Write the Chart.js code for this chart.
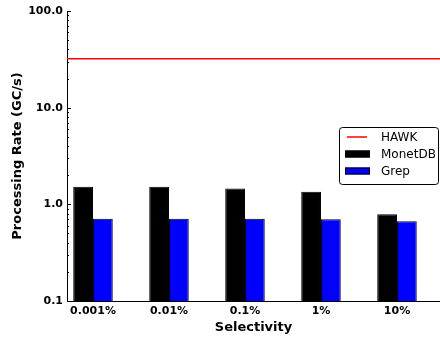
<!DOCTYPE html>
<html>
<head>
<meta charset="utf-8">
<script src="https://cdn.jsdelivr.net/npm/chart.js@4/dist/chart.umd.min.js"></script>
<style>
  html, body { margin: 0; padding: 0; background: #fff; }
  #wrap { width: 440px; height: 339px; position: relative; }
</style>
</head>
<body>
<div id="wrap"><canvas id="chart"></canvas></div>
<script>
// ─── Data ────────────────────────────────────────────────
const categories = ['0.001%', '0.01%', '0.1%', '1%', '10%'];
const monetdb = [1.52, 1.52, 1.46, 1.35, 0.79];
const grep = [0.71, 0.71, 0.71, 0.70, 0.67];
const hawk = 32;
const yTicks = [0.1, 1, 10, 100];
const yTickLabels = ['0.1', '1.0', '10.0', '100.0'];

const X_MIN = -0.342;
const X_MAX = 4.566;

const FONT = 'DejaVu Sans';

// small inward tick marks on the left spine, like matplotlib
const innerTicks = {
    id: 'innerTicks',
    afterDatasetsDraw(chart) {
        const { ctx, scales: { y }, chartArea } = chart;
        ctx.save();
        ctx.strokeStyle = '#000';
        ctx.lineWidth = 1;
        for (let d = 0.1; d < 100; d *= 10) {
            for (let m = 1; m <= 9; m++) {
                const v = d * m;
                const py = Math.round(y.getPixelForValue(v)) + 0.5;
                const len = m === 1 ? 4 : 2;
                ctx.beginPath();
                ctx.moveTo(chartArea.left, py);
                ctx.lineTo(chartArea.left + len, py);
                ctx.stroke();
            }
        }
        const top = Math.round(y.getPixelForValue(100)) + 0.5;
        ctx.beginPath();
        ctx.moveTo(chartArea.left, top);
        ctx.lineTo(chartArea.left + 4, top);
        ctx.stroke();
        ctx.restore();
    }
};

// legend box inside the plot
const boxLegend = {
    id: 'boxLegend',
    afterDraw(chart) {
        const { ctx } = chart;
        const x = 339.5, y = 127.5, w = 99, h = 57;
        ctx.save();
        ctx.strokeStyle = '#000';
        ctx.lineWidth = 1;
        ctx.fillStyle = '#fff';
        ctx.beginPath();
        ctx.roundRect(x, y, w, h, 3);
        ctx.fill();
        ctx.stroke();
        ctx.font = '12px "' + FONT + '"';
        ctx.textBaseline = 'middle';
        const rows = [137, 154, 171];
        chart.data.datasets.forEach((ds, i) => {
            const cy = rows[i];
            if (ds.type === 'line') {
                ctx.strokeStyle = ds.borderColor;
                ctx.lineWidth = 1.5;
                ctx.beginPath();
                ctx.moveTo(347, cy);
                ctx.lineTo(367, cy);
                ctx.stroke();
            } else {
                ctx.fillStyle = ds.backgroundColor;
                ctx.fillRect(345, cy - 3.5, 25, 7);
                ctx.strokeStyle = '#000';
                ctx.lineWidth = 1;
                ctx.strokeRect(345.5, cy - 3, 24, 6);
            }
            ctx.fillStyle = '#000';
            ctx.fillText(ds.label, 381, cy + 0.5);
        });
        ctx.restore();
    }
};

new Chart(document.getElementById('chart'), {
    type: 'bar',
    data: {
        datasets: [
            {
                type: 'line',
                label: 'HAWK',
                data: [{ x: X_MIN, y: hawk }, { x: X_MAX, y: hawk }],
                borderColor: '#ff0000',
                borderWidth: 1.5,
                pointRadius: 0,
                order: 0,
            },
            {
                label: 'MonetDB',
                data: monetdb.map((v, i) => ({ x: i, y: v })),
                backgroundColor: '#000000',
                borderColor: '#000000',
                borderWidth: 1,
                order: 1,
            },
            {
                label: 'Grep',
                data: grep.map((v, i) => ({ x: i, y: v })),
                backgroundColor: '#0000ff',
                borderColor: '#000000',
                borderWidth: 1,
                order: 1,
            }
        ]
    },
    options: {
        responsive: true,
        maintainAspectRatio: false,
        animation: false,
        events: [],
        categoryPercentage: 0.52,
        barPercentage: 1.0,
        layout: { padding: { top: 11, right: 0, left: 0, bottom: 0 } },
        plugins: {
            legend: { display: false },
            tooltip: { enabled: false }
        },
        scales: {
            x: {
                type: 'linear',
                min: X_MIN,
                max: X_MAX,
                offset: false,
                grid: { display: false, offset: false, drawTicks: false },
                border: { display: true, color: '#000', width: 1 },
                afterBuildTicks: (s) => { s.ticks = categories.map((c, i) => ({ value: i })); },
                afterFit: (s) => { s.height = 38; },
                ticks: {
                    autoSkip: false,
                    maxRotation: 0,
                    padding: 4,
                    color: '#000',
                    font: { family: FONT, size: 11, weight: 'bold' },
                    callback: (v) => categories[v]
                },
                title: {
                    display: true,
                    text: 'Selectivity',
                    color: '#000',
                    font: { family: FONT, size: 13, weight: 'bold' },
                    padding: { top: 0, bottom: 4 }
                }
            },
            y: {
                type: 'logarithmic',
                min: 0.1,
                max: 100,
                grid: { display: false, drawTicks: false },
                border: { display: true, color: '#000', width: 1 },
                afterBuildTicks: (s) => { s.ticks = yTicks.map(v => ({ value: v, major: true })); },
                afterFit: (s) => { s.width = 67; },
                ticks: {
                    padding: 4,
                    color: '#000',
                    font: { family: FONT, size: 11, weight: 'bold' },
                    callback: (v) => yTickLabels[yTicks.indexOf(v)]
                },
                title: {
                    display: true,
                    text: 'Processing Rate (GC/s)',
                    color: '#000',
                    font: { family: FONT, size: 13, weight: 'bold' },
                    padding: { top: 10, bottom: 0 }
                }
            }
        }
    },
    plugins: [innerTicks, boxLegend]
});
</script>
</body>
</html>
